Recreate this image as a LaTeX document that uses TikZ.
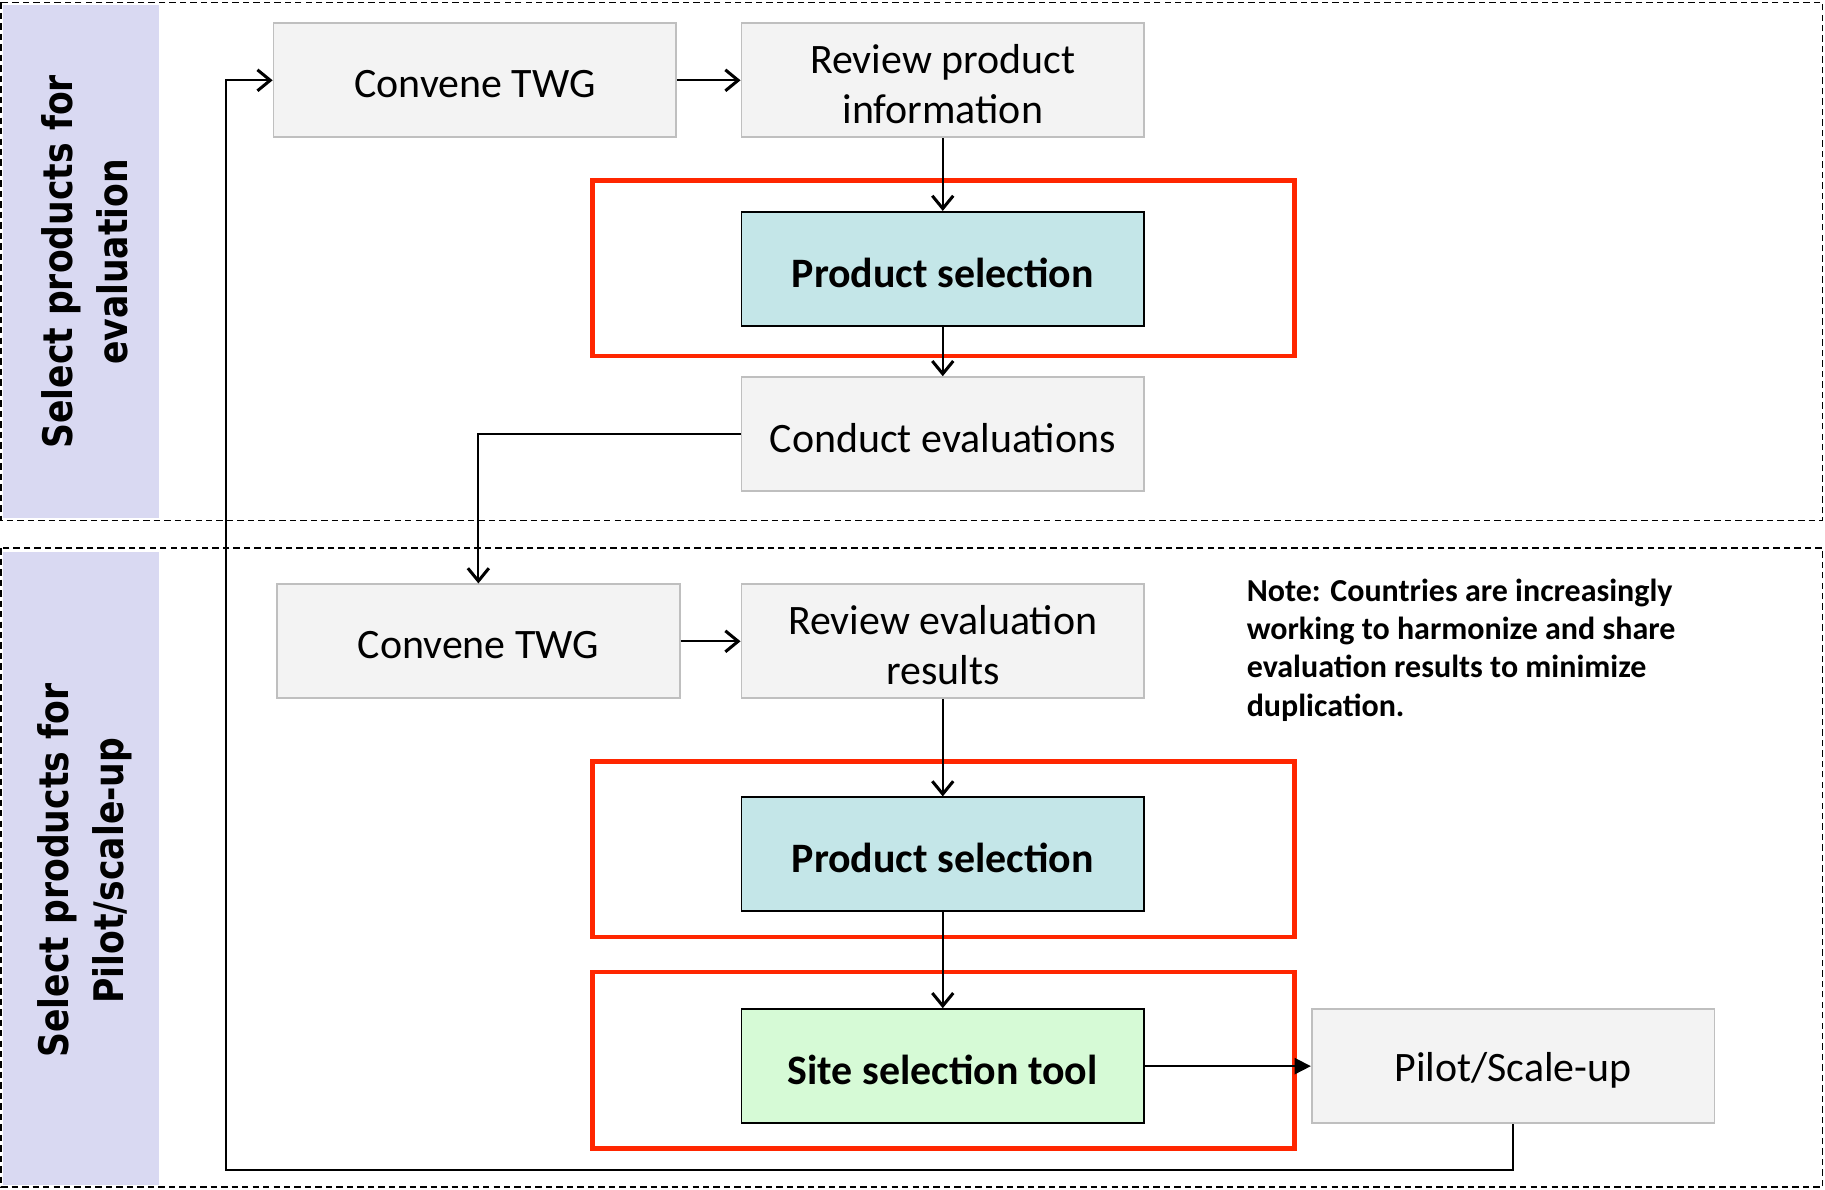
\documentclass[tikz,border=0pt]{standalone}
\usepackage{fontspec}
\setmainfont{Carlito}
\newfontfamily\sidefont[FakeStretch=0.85]{DejaVu Sans}
\usetikzlibrary{arrows.meta}
\definecolor{boxfill}{RGB}{243,243,243}
\definecolor{boxline}{RGB}{191,191,191}
\definecolor{tealfill}{RGB}{196,230,232}
\definecolor{greenfill}{RGB}{214,250,214}
\definecolor{lav}{RGB}{217,217,242}
\definecolor{redline}{RGB}{255,38,0}
\begin{document}
\begin{tikzpicture}[x=1pt,y=-1pt,
  gbox/.style={draw=boxline, fill=boxfill, line width=1.5pt, minimum width=346pt, minimum height=98pt, inner sep=0pt,
    label={[inner sep=0pt, align=center, yshift=-3.5pt, font=\fontsize{36}{43}\selectfont]center:#1}},
  pbox/.style={draw=black, fill=tealfill, line width=1.5pt, minimum width=346pt, minimum height=98pt, inner sep=0pt,
    label={[inner sep=0pt, align=center, yshift=-3.5pt, font=\fontsize{36}{43}\selectfont\bfseries]center:#1}},
  sbox/.style={pbox=#1, fill=greenfill},
  redbox/.style={draw=redline, line width=4pt},
  zone/.style={draw=black, line width=1.3pt, dash pattern=on 5.5pt off 3.5pt},
  conn/.style={line width=1.5pt, -{Straight Barb[length=11pt,width=18pt,line width=2.6pt]}},
  connf/.style={line width=1.5pt, -{Triangle[length=14pt,width=14pt]}},
  sidelabel/.style={rotate=90, align=center, inner sep=0pt, font=\sidefont\bfseries\fontsize{35}{47}\selectfont}
]
\useasboundingbox (0,0) rectangle (1568,1022);
% lanes
\fill[lav] (3,4) rectangle (137,445);
\fill[lav] (3,474) rectangle (137,1018);
\draw[zone] (1,2) rectangle (1566,447);
\draw[zone] (1,471) rectangle (1566,1020);
\node[sidelabel] (lab1) at (73,225) {Select products for\\evaluation};
\node[sidelabel] (lab2) at (73,748) {Select products for\\Pilot/scale-up};
% red highlight boxes
\draw[redbox] (509,155) rectangle (1112,306);
\draw[redbox] (509,654) rectangle (1112,805);
\draw[redbox] (509,835) rectangle (1112,987);
% boxes
\node[gbox={Convene TWG}] (c1) at (408,69) {};
\node[gbox={Review product\\information}] (r1) at (810,69) {};
\node[pbox={Product selection}] (p1) at (810,231) {};
\node[gbox={Conduct evaluations}] (ce) at (810,373) {};
\node[gbox={Convene TWG}] (c2) at (411,551) {};
\node[gbox={Review evaluation\\results}] (r2) at (810,551) {};
\node[pbox={Product selection}] (p2) at (810,734) {};
\node[sbox={Site selection tool}] (st) at (810,916) {};
\node[gbox={Pilot/Scale-up}] (pu) at (1300,916) {};
\node[anchor=north west, align=left, inner sep=0pt, font=\fontsize{27.5}{33}\selectfont\bfseries] (note) at (1071,497)
  {Note: Countries are increasingly\\working to harmonize and share\\evaluation results to minimize\\duplication.};
% connectors
\coordinate (loop) at (194,1005);
\draw[conn] (c1) -- (r1);
\draw[conn] (r1) -- (p1);
\draw[conn] (p1) -- (ce);
\draw[conn] (ce.west) -| (c2.north);
\draw[conn] (c2) -- (r2);
\draw[conn] (r2) -- (p2);
\draw[conn] (p2) -- (st);
\draw[connf] (st) -- (pu);
\draw[conn] (pu.south) |- (loop) |- (c1.west);
\end{tikzpicture}
\end{document}
